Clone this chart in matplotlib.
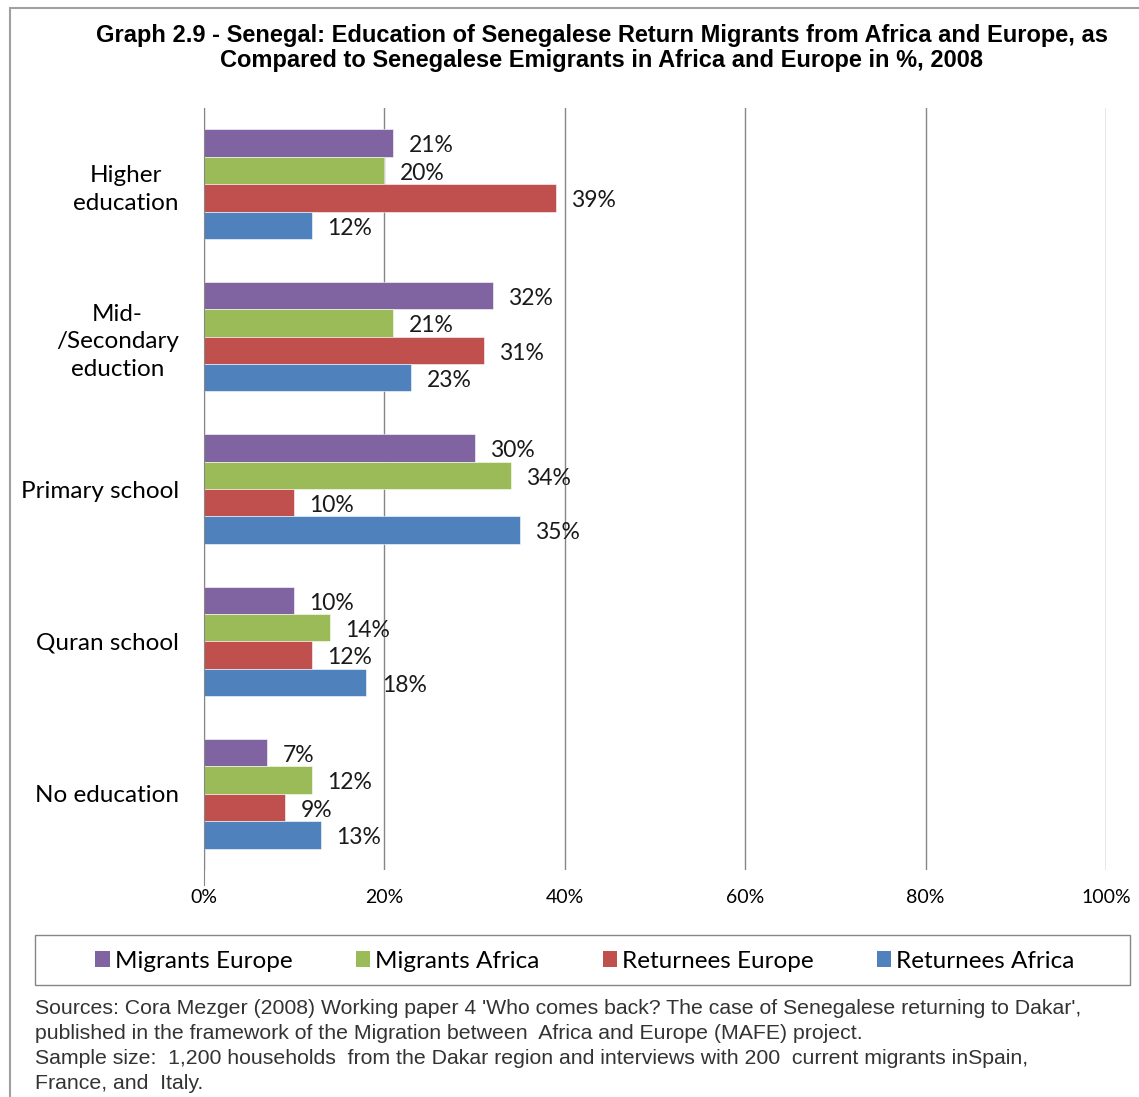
import numpy as np
import matplotlib.pyplot as plt
from matplotlib.patches import Patch, Rectangle

categories = ["Higher\neducation", "Mid-\n/Secondary\neduction", "Primary school",
              "Quran school", "No education"]
series_names = ["Migrants Europe", "Migrants Africa", "Returnees Europe", "Returnees Africa"]
migrants_europe = [21, 32, 30, 10, 7]
migrants_africa = [20, 21, 34, 14, 12]
returnees_europe = [39, 31, 10, 12, 9]
returnees_africa = [12, 23, 35, 18, 13]
x_ticks = [0, 20, 40, 60, 80, 100]

colors = ["#8064A2", "#9BBB59", "#C0504D", "#4F81BD"]
label_font = "Lato"
text_font = "Liberation Sans"

fig = plt.figure(figsize=(11.39, 10.97), dpi=100)
# outer frame of the original graphic (right and bottom edges are cut off)
fig.patches.append(Rectangle((10 / 1139, -0.2), 1.2, 1.2 - 8 / 1097, transform=fig.transFigure,
                             fill=False, edgecolor="#A0A0A0", lw=1.5))

ax = fig.add_axes([204 / 1139, 1 - 870 / 1097, 902 / 1139, 762 / 1097])

all_series = [migrants_europe, migrants_africa, returnees_europe, returnees_africa]
y = np.arange(len(categories))
bar_h = 0.18
for i, (vals, name, col) in enumerate(zip(all_series, series_names, colors)):
    pos = y + (i - 1.5) * bar_h
    bars = ax.barh(pos, vals, height=bar_h, color=col, label=name, edgecolor="white", linewidth=0.4)
    for b, v in zip(bars, vals):
        ax.annotate(f"{v}%", (b.get_width(), b.get_y() + b.get_height() / 2),
                    xytext=(11, -2), textcoords="offset points", va="center", ha="left",
                    fontsize=16.5, family=label_font, color="#1a1a1a")

ax.set_xlim(0, 100)
ax.set_ylim(len(categories) - 0.5, -0.5)
ax.set_xticks(x_ticks)
ax.set_xticklabels([f"{t}%" for t in x_ticks], family=label_font, fontsize=14)
ax.set_yticks(y)
ax.set_yticklabels(categories, family=label_font, fontsize=17.5, multialignment="center",
                   linespacing=1.4)
ax.tick_params(axis="x", length=0, pad=14)
ax.tick_params(axis="y", length=0, pad=18)
ax.grid(axis="x", color="#868686", lw=1)
ax.set_axisbelow(True)
for s in ["top", "right", "bottom"]:
    ax.spines[s].set_visible(False)
ax.spines["left"].set_color("#868686")
ax.spines["left"].set_bounds(len(categories) - 0.4, -0.5)

fig.text(602 / 1139, 1 - 48 / 1097,
         "Graph 2.9 - Senegal: Education of Senegalese Return Migrants from Africa and Europe, as\n"
         "Compared to Senegalese Emigrants in Africa and Europe in %, 2008",
         ha="center", va="center", fontsize=17, fontweight="bold", family=text_font,
         linespacing=1.15)

# legend box
fig.patches.append(Rectangle((35 / 1139, 1 - 985 / 1097), 1095 / 1139, 50 / 1097,
                             transform=fig.transFigure, fill=False, edgecolor="#868686", lw=1))
handles = [Patch(facecolor=c, edgecolor="none", label=n) for c, n in zip(colors, series_names)]
fig.legend(handles=handles, loc="center", ncol=4, bbox_to_anchor=(585 / 1139, 1 - 961 / 1097),
           prop={"family": label_font, "size": 17.5}, frameon=False,
           handlelength=0.6, handleheight=0.6, handletextpad=0.2, columnspacing=2.6,
           borderpad=0)

fig.text(35 / 1139, 1 - 999 / 1097,
         "Sources: Cora Mezger (2008) Working paper 4 'Who comes back? The case of Senegalese returning to Dakar',\n"
         "published in the framework of the Migration between  Africa and Europe (MAFE) project.\n"
         "Sample size:  1,200 households  from the Dakar region and interviews with 200  current migrants inSpain,\n"
         "France, and  Italy.",
         ha="left", va="top", fontsize=15.3, family=text_font, color="#333333", linespacing=1.4)

fig.savefig("out.png", dpi=100)
